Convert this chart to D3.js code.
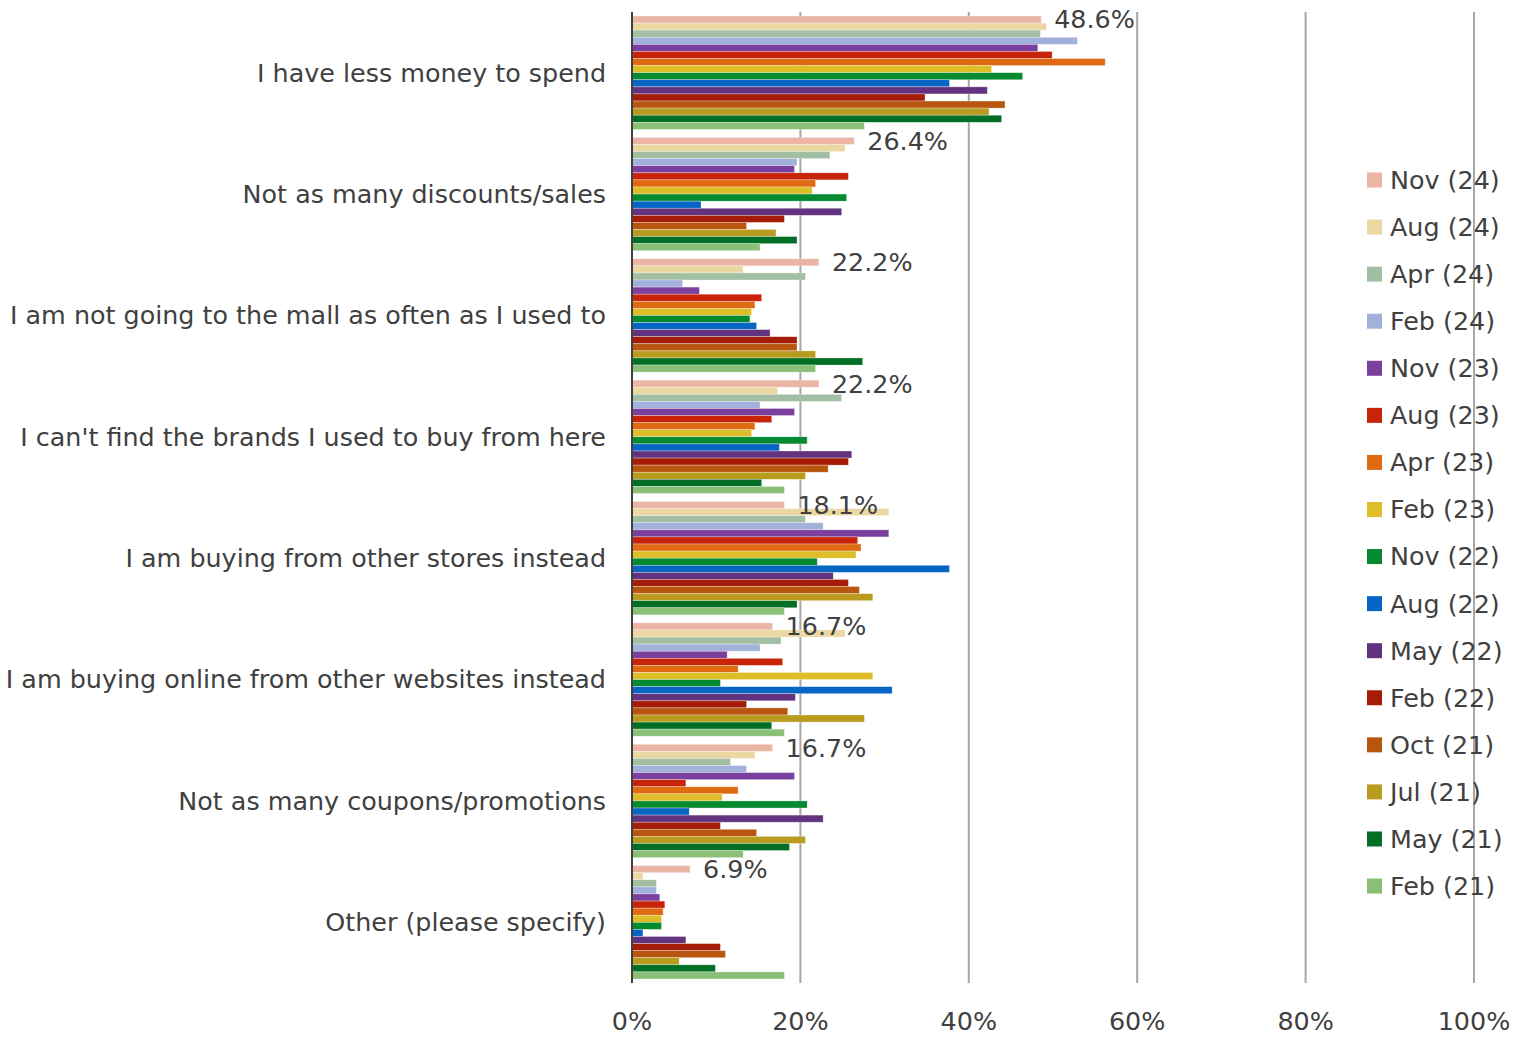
<!DOCTYPE html>
<html>
<head>
<meta charset="utf-8">
<script src="https://cdn.jsdelivr.net/npm/d3@7"></script>
<style>
  html, body { margin: 0; padding: 0; background: #fff; }
  svg { display: block; }
  text { font-family: "DejaVu Sans", Verdana, sans-serif; fill: #404040; }
</style>
</head>
<body>
<svg id="chart" width="1527" height="1037"></svg>
<script>
const categories = [
  "I have less money to spend",
  "Not as many discounts/sales",
  "I am not going to the mall as often as I used to",
  "I can't find the brands I used to buy from here",
  "I am buying from other stores instead",
  "I am buying online from other websites instead",
  "Not as many coupons/promotions",
  "Other (please specify)"
];

const seriesNames = ["Nov (24)", "Aug (24)", "Apr (24)", "Feb (24)", "Nov (23)", "Aug (23)", "Apr (23)", "Feb (23)",
  "Nov (22)", "Aug (22)", "May (22)", "Feb (22)", "Oct (21)", "Jul (21)", "May (21)", "Feb (21)"];

const seriesColors = ["#EBB5A6", "#EAD7A2", "#A2BFA3", "#A2B1D9", "#7B3F9E", "#C8240A", "#E06A12", "#DDBE28",
  "#058A2F", "#0765C4", "#62337F", "#A51D08", "#B8550E", "#B89B1F", "#036E25", "#8ABF78"];

// values (%) per series, in category order
const nov24 = [48.6, 26.4, 22.2, 22.2, 18.1, 16.7, 16.7, 6.9];
const aug24 = [49.2, 25.3, 13.2, 17.3, 30.5, 25.3, 14.6, 1.3];
const apr24 = [48.5, 23.5, 20.6, 24.9, 20.6, 17.7, 11.7, 2.9];
const feb24 = [52.9, 19.6, 6.0, 15.2, 22.7, 15.2, 13.6, 2.9];
const nov23 = [48.2, 19.3, 8.0, 19.3, 30.5, 11.3, 19.3, 3.3];
const aug23 = [49.9, 25.7, 15.4, 16.6, 26.8, 17.9, 6.4, 3.9];
const apr23 = [56.2, 21.8, 14.6, 14.6, 27.2, 12.6, 12.6, 3.7];
const feb23 = [42.7, 21.4, 14.2, 14.2, 26.6, 28.6, 10.7, 3.5];
const nov22 = [46.4, 25.5, 14.0, 20.8, 22.0, 10.5, 20.8, 3.5];
const aug22 = [37.7, 8.2, 14.8, 17.5, 37.7, 30.9, 6.8, 1.3];
const may22 = [42.2, 24.9, 16.4, 26.1, 23.9, 19.4, 22.7, 6.4];
const feb22 = [34.8, 18.1, 19.6, 25.7, 25.7, 13.6, 10.5, 10.5];
const oct21 = [44.3, 13.6, 19.6, 23.3, 27.0, 18.5, 14.8, 11.1];
const jul21 = [42.4, 17.1, 21.8, 20.6, 28.6, 27.6, 20.6, 5.6];
const may21 = [43.9, 19.6, 27.4, 15.4, 19.6, 16.6, 18.7, 9.9];
const feb21 = [27.6, 15.2, 21.8, 18.1, 18.1, 18.1, 13.2, 18.1];

const seriesValues = [nov24, aug24, apr24, feb24, nov23, aug23, apr23, feb23,
  nov22, aug22, may22, feb22, oct21, jul21, may21, feb21];

const xTicks = [0, 20, 40, 60, 80, 100];
const tickLabels = ["0%", "20%", "40%", "60%", "80%", "100%"];

const svg = d3.select("#chart");
const FONT = 25.4;

const x = d3.scaleLinear().domain([0, 100]).range([632, 1474]);
const y = d3.scaleBand().domain(categories).range([12, 983]).paddingInner(0.066).paddingOuter(0.033);
const yInner = d3.scaleBand().domain(seriesNames).range([0, y.bandwidth()]);

// gridlines
svg.append("g")
  .selectAll("line")
  .data(xTicks.slice(1))
  .join("line")
  .attr("x1", d => x(d)).attr("x2", d => x(d))
  .attr("y1", 12).attr("y2", 983)
  .attr("stroke", "#a6a6a6").attr("stroke-width", 2);

// bars
const rows = [];
categories.forEach((c, ci) => {
  seriesNames.forEach((s, si) => {
    rows.push({ c, s, si, v: seriesValues[si][ci] });
  });
});

svg.append("g")
  .selectAll("rect")
  .data(rows)
  .join("rect")
  .attr("x", x(0))
  .attr("y", d => y(d.c) + yInner(d.s))
  .attr("width", d => x(d.v) - x(0))
  .attr("height", yInner.bandwidth())
  .attr("fill", d => seriesColors[d.si])
  .attr("stroke", "#ffffff")
  .attr("stroke-opacity", 0.5)
  .attr("stroke-width", 0.6);

// axis line
svg.append("line")
  .attr("x1", x(0)).attr("x2", x(0))
  .attr("y1", 12).attr("y2", 983)
  .attr("stroke", "#404040").attr("stroke-width", 2);

// data labels for first series
svg.append("g")
  .selectAll("text")
  .data(categories)
  .join("text")
  .attr("x", (c, i) => x(nov24[i]) + 13)
  .attr("y", c => y(c) + yInner(seriesNames[0]) + yInner.bandwidth() / 2)
  .attr("dy", "0.35em")
  .attr("font-size", FONT)
  .text((c, i) => nov24[i].toFixed(1) + "%");

// category labels
svg.append("g")
  .selectAll("text")
  .data(categories)
  .join("text")
  .attr("x", 606)
  .attr("y", c => y(c) + y.bandwidth() / 2)
  .attr("dy", "0.35em")
  .attr("text-anchor", "end")
  .attr("font-size", FONT)
  .text(c => c);

// x tick labels
svg.append("g")
  .selectAll("text")
  .data(xTicks)
  .join("text")
  .attr("x", d => x(d))
  .attr("y", 1021)
  .attr("dy", "0.35em")
  .attr("text-anchor", "middle")
  .attr("font-size", FONT)
  .text((d, i) => tickLabels[i]);

// legend
const legend = svg.append("g")
  .selectAll("g")
  .data(seriesNames)
  .join("g")
  .attr("transform", (d, i) => `translate(1367, ${180 + i * 47.07})`);
legend.append("rect")
  .attr("x", 0).attr("y", -7.5)
  .attr("width", 15).attr("height", 15)
  .attr("fill", (d, i) => seriesColors[i]);
legend.append("text")
  .attr("x", 23).attr("y", 0)
  .attr("dy", "0.35em")
  .attr("font-size", FONT)
  .text(d => d);
</script>
</body>
</html>
